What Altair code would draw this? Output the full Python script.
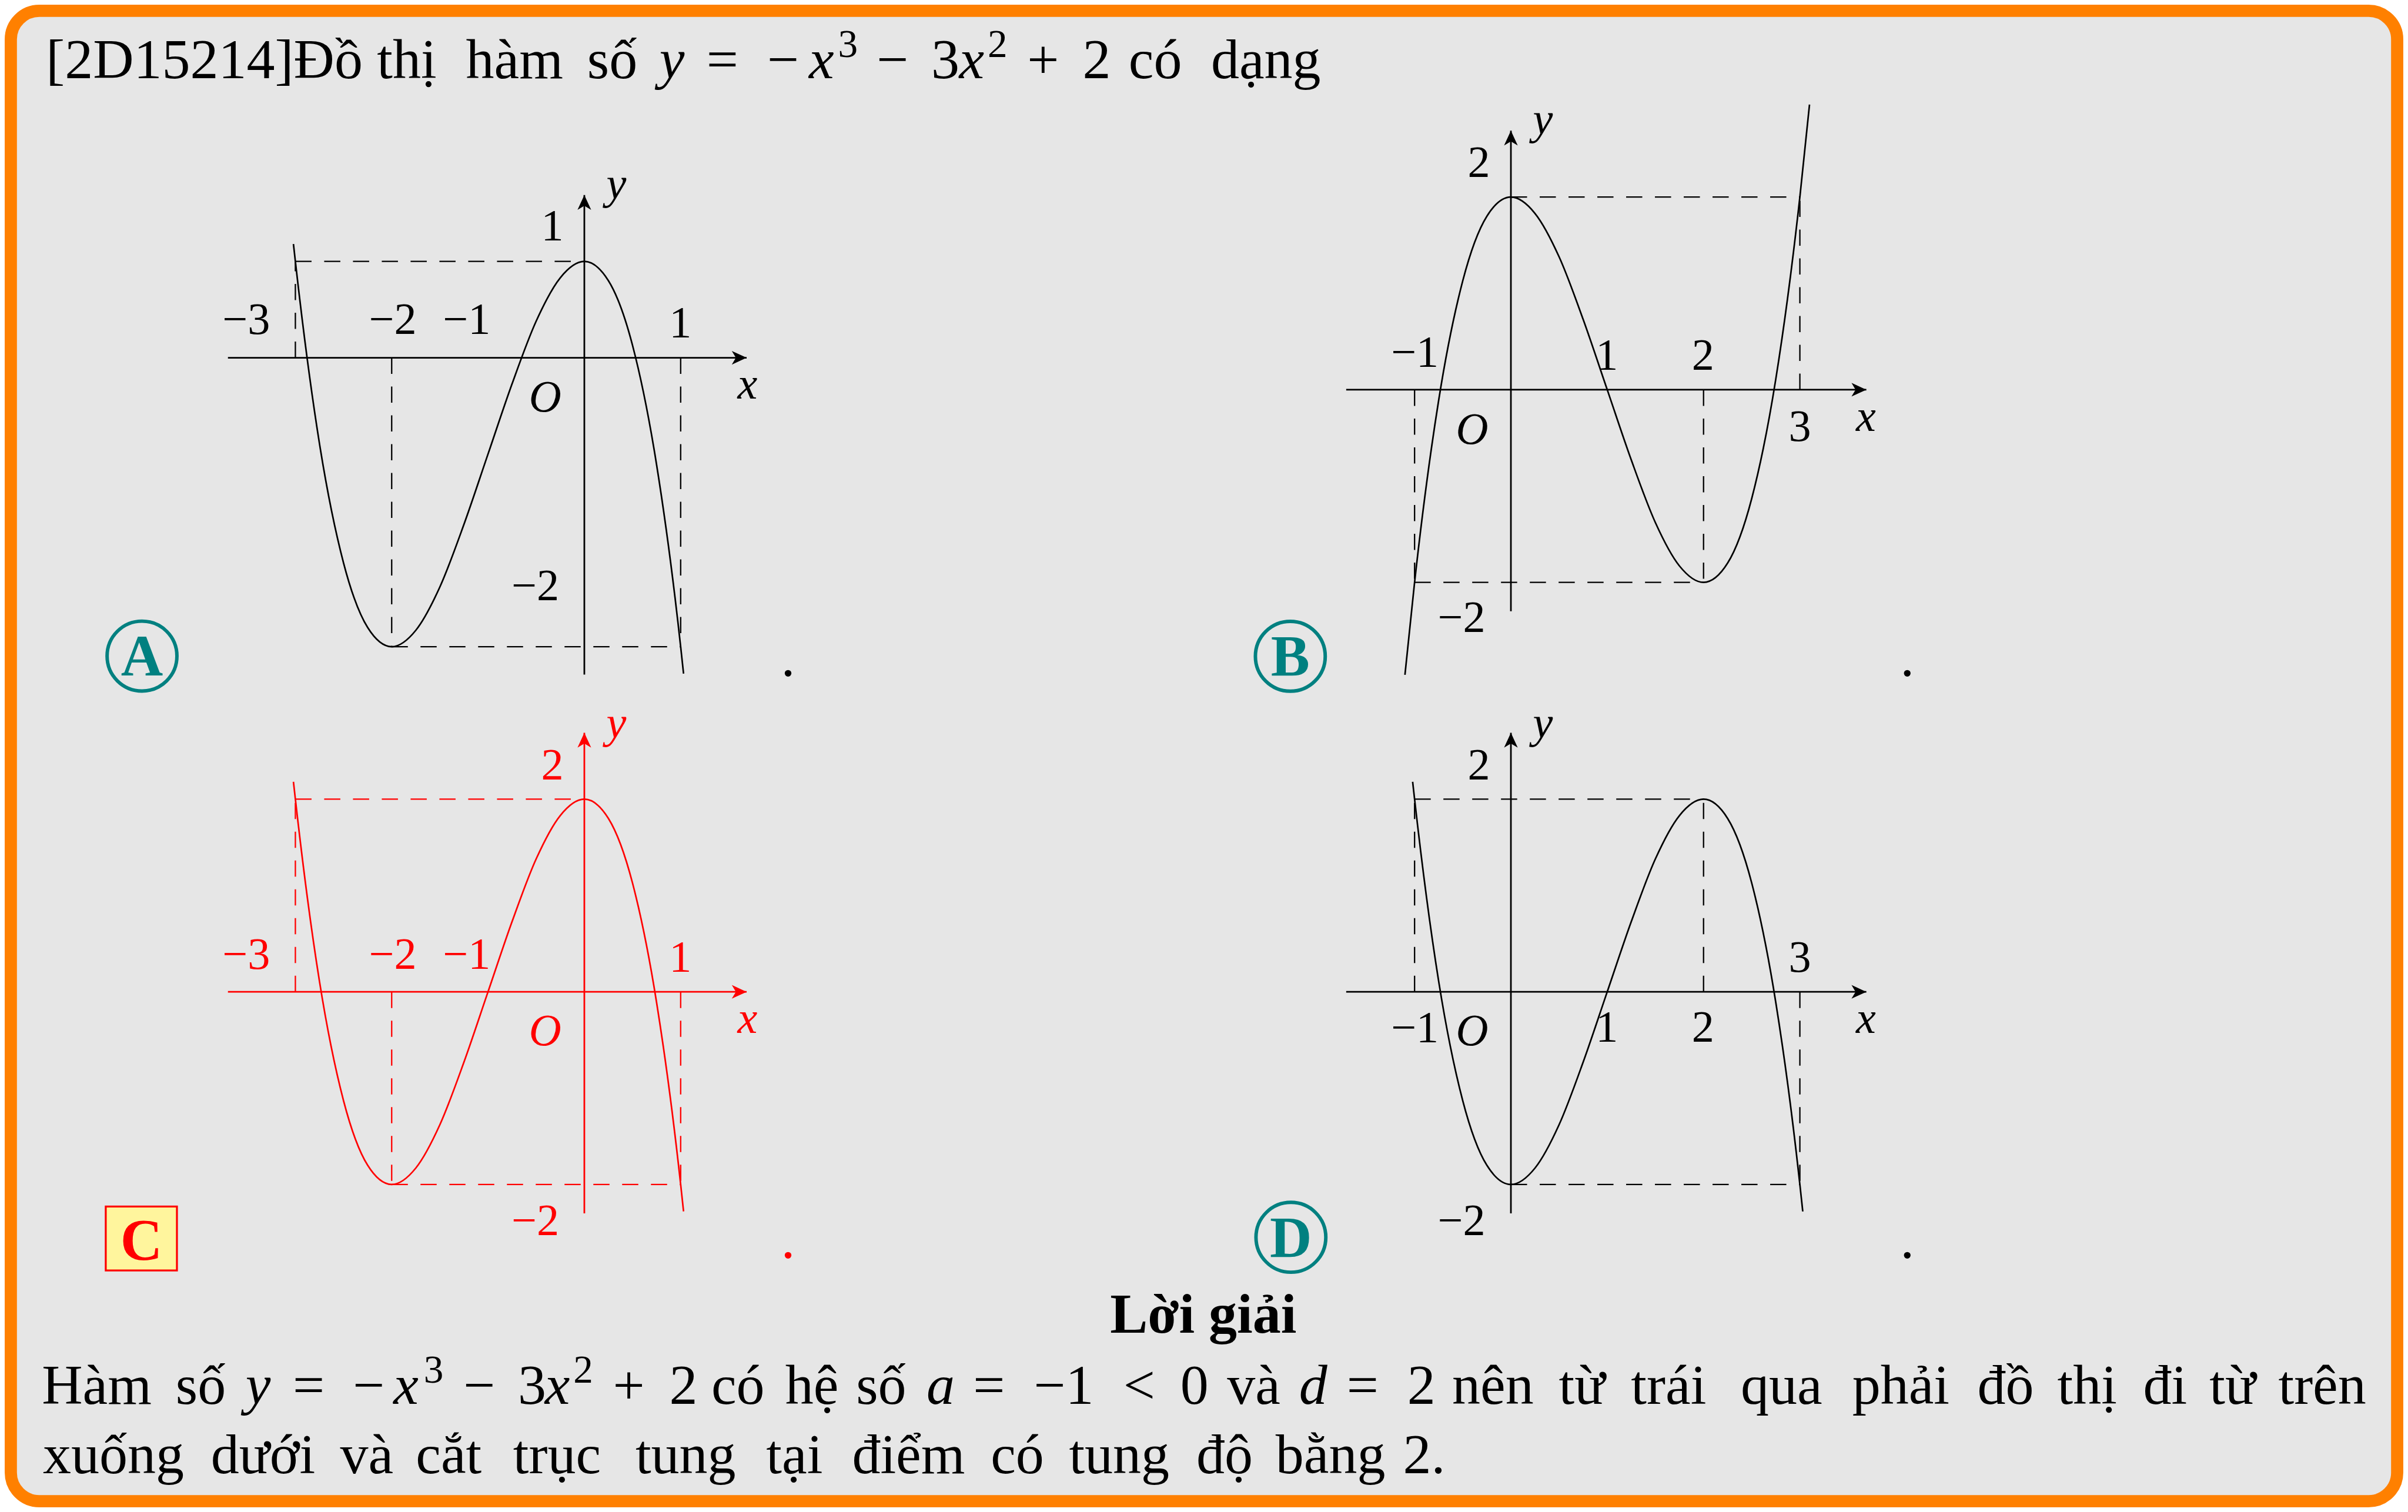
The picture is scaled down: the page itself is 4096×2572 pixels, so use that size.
import altair as alt
import pandas as pd

# ---------------- layout constants ----------------
S = 0.99          # reference -> window scale
OFF = 8.0         # page margin
W, H = 4080, 2556 # chart size (fits inside window minus margins)
U = 165.5 * S     # one math unit in pixels
FONT = "Liberation Serif"
FS_BODY = 97
FS_LABEL = 77
TEAL = "#008080"
RED = "#ff0000"


def P(v):
    return v * S - OFF


dummy = pd.DataFrame({"k": [0]})

# ---------------- panel data ----------------
# Panel A
A_cx = [-3.02, -3.0, -2.75, -2.5, -2.25, -2.0, -1.75, -1.5, -1.25, -1.0, -0.75, -0.5, -0.25, 0.0, 0.25, 0.5, 0.75, 1.0, 1.03]
A_cy = [1.18, 1.0, -0.89, -2.13, -2.80, -3.0, -2.83, -2.38, -1.73, -1.0, -0.27, 0.38, 0.83, 1.0, 0.80, 0.13, -1.11, -3.0, -3.28]
A_axx = [-3.70, 1.685]
A_axy = [-3.29, 1.69]
A_dx1 = [-3, -3, -2, -2, 1]
A_dy1 = [1, 0, 0, -3, 0]
A_dx2 = [0, -3, -2, 1, 1]
A_dy2 = [1, 1, -3, -3, -3]
A_nt = ["1", "−3", "−2", "−1", "1", "−2"]
A_nx = [-0.332, -3.51, -1.989, -1.222, 0.997, -0.509]
A_ny = [1.215, 0.245, 0.245, 0.245, 0.208, -2.519]
A_lt = ["y", "x", "O"]
A_lx = [0.332, 1.693, -0.407]
A_ly = [1.654, -0.421, -0.56]

# Panel B
B_cx = [-1.1, -1.0, -0.75, -0.5, -0.25, 0.0, 0.25, 0.5, 0.75, 1.0, 1.25, 1.5, 1.75, 2.0, 2.25, 2.5, 2.75, 3.0, 3.1]
B_cy = [-2.96, -2.0, -0.11, 1.13, 1.80, 2.0, 1.83, 1.38, 0.73, 0.0, -0.73, -1.38, -1.83, -2.0, -1.80, -1.13, 0.11, 2.0, 2.96]
B_axx = [-1.71, 3.69]
B_axy = [-2.30, 2.69]
B_dx1 = [0, 3, 2, -1, -1]
B_dy1 = [2, 0, 0, -2, 0]
B_dx2 = [3, 3, 2, 2, -1]
B_dy2 = [2, 2, -2, -2, -2]
B_nt = ["2", "−1", "1", "2", "3", "−2"]
B_nx = [-0.332, -0.997, 0.997, 1.994, 3.0, -0.513]
B_ny = [2.209, 0.239, 0.206, 0.206, -0.534, -2.517]
B_lt = ["y", "x", "O"]
B_lx = [0.332, 3.686, -0.403]
B_ly = [2.654, -0.429, -0.563]

# Panel C
C_cx = [-3.02, -3.0, -2.75, -2.5, -2.25, -2.0, -1.75, -1.5, -1.25, -1.0, -0.75, -0.5, -0.25, 0.0, 0.25, 0.5, 0.75, 1.0, 1.03]
C_cy = [2.18, 2.0, 0.11, -1.13, -1.80, -2.0, -1.83, -1.38, -0.73, 0.0, 0.73, 1.38, 1.83, 2.0, 1.80, 1.13, -0.11, -2.0, -2.28]
C_axx = [-3.70, 1.685]
C_axy = [-2.30, 2.69]
C_dx1 = [-3, -3, -2, -2, 1]
C_dy1 = [2, 0, 0, -2, 0]
C_dx2 = [0, -3, -2, 1, 1]
C_dy2 = [2, 2, -2, -2, -2]
C_nt = ["2", "−3", "−2", "−1", "1", "−2"]
C_nx = [-0.332, -3.51, -1.989, -1.222, 0.997, -0.509]
C_ny = [2.203, 0.238, 0.238, 0.238, 0.21, -2.528]
C_lt = ["y", "x", "O"]
C_lx = [0.332, 1.693, -0.407]
C_ly = [2.639, -0.425, -0.556]

# Panel D
D_cx = [-1.02, -1.0, -0.75, -0.5, -0.25, 0.0, 0.25, 0.5, 0.75, 1.0, 1.25, 1.5, 1.75, 2.0, 2.25, 2.5, 2.75, 3.0, 3.03]
D_cy = [2.18, 2.0, 0.11, -1.13, -1.80, -2.0, -1.83, -1.38, -0.73, 0.0, 0.73, 1.38, 1.83, 2.0, 1.80, 1.13, -0.11, -2.0, -2.28]
D_axx = [-1.71, 3.69]
D_axy = [-2.30, 2.69]
D_dx1 = [-1, -1, 2, 0, 3]
D_dy1 = [2, 0, 0, -2, 0]
D_dx2 = [2, -1, 2, 3, 3]
D_dy2 = [2, 2, 2, -2, -2]
D_nt = ["2", "3", "−1", "1", "2", "−2"]
D_nx = [-0.332, 3.0, -0.997, 0.997, 1.994, -0.513]
D_ny = [2.203, 0.21, -0.524, -0.516, -0.516, -2.528]
D_lt = ["y", "x", "O"]
D_lx = [0.332, 3.686, -0.403]
D_ly = [2.639, -0.425, -0.556]

# ---------------- page text ----------------
# style: n = normal (left), c = normal (centred), i = italic (left), s = superscript
title_t = ["[2D15214]Đồ", "thị", "hàm", "số", "y", "=", "−", "x", "3", "−", "3", "x", "2", "+", "2", "có", "dạng"]
title_s = ["n", "c", "c", "c", "i", "n", "n", "i", "s", "n", "n", "i", "s", "n", "n", "c", "c"]
title_x = [79, 699, 884, 1052, 1133, 1214, 1318, 1390, 1440, 1506, 1600, 1648, 1697, 1765, 1860, 1985, 2175]

line1_t = ["Hàm", "số", "y", "=", "−", "x", "3", "−", "3", "x", "2", "+", "2", "có", "hệ", "số", "a", "=", "−1",
           "<", "0", "và", "d", "=", "2", "nên", "từ", "trái", "qua", "phải", "đồ", "thị", "đi", "từ", "trên"]
line1_s = ["n", "c", "i", "n", "n", "i", "s", "n", "n", "i", "s", "n", "n", "c", "c", "c", "i", "n", "n",
           "n", "n", "c", "i", "n", "n", "c", "c", "c", "c", "c", "c", "c", "c", "c", "c"]
line1_x = [72, 345, 422, 503, 606, 676, 728, 796, 890, 936, 985, 1053, 1150, 1268, 1395, 1514, 1592, 1672, 1776,
           1930, 2028, 2154, 2232, 2314, 2418, 2565, 2718, 2867, 3061, 3266, 3446, 3586, 3720, 3836, 3990]

line2_t = ["xuống", "dưới", "và", "cắt", "trục", "tung", "tại", "điểm", "có", "tung", "độ", "bằng", "2."]
line2_x = [195, 452, 630, 771, 957, 1178, 1365, 1561, 1748, 1923, 2104, 2286, 2447]

# ---------------- helpers ----------------
ARROW_L = 25.5 * S
ARROW_SIZE = ARROW_L ** 2
RIGHT = "M1,0 L-1,-0.92 L-0.45,0 L-1,0.92 Z"
UP = "M0,-1 L0.92,1 L0,0.45 L-0.92,1 Z"


def txt(s, x, y, size=FS_BODY, style="normal", weight="normal", color="black", align="left"):
    return alt.Chart(dummy).mark_text(
        text=s, font=FONT, fontSize=size * S, fontStyle=style, fontWeight=weight,
        color=color, align=align, baseline="alphabetic"
    ).encode(x=alt.value(P(x)), y=alt.value(P(y)))


def token_line(tokens, styles, xs, base):
    out = []
    for t, st, x in zip(tokens, styles, xs):
        if st == "s":
            out.append(txt(t, x, base - 36, size=FS_BODY * 0.7))
        elif st == "i":
            out.append(txt(t, x, base, style="italic"))
        elif st == "c":
            out.append(txt(t, x, base, align="center"))
        else:
            out.append(txt(t, x, base))
    return out


def panel(cx, cy, axx, axy, dx1, dy1, dx2, dy2, nt, nx, ny, lt, lx, ly, origin, color):
    ox, oy = P(origin[0]), P(origin[1])
    xs = alt.Scale(domain=[-ox / U, (W - ox) / U], nice=False, zero=False)
    ys = alt.Scale(domain=[(oy - H) / U, oy / U], nice=False, zero=False)

    def enc(xf, yf):
        return dict(x=alt.X(xf, type="quantitative", scale=xs, axis=None),
                    y=alt.Y(yf, type="quantitative", scale=ys, axis=None))

    dash_df = pd.DataFrame({"x1": dx1, "y1": dy1, "x2": dx2, "y2": dy2})
    dashes = alt.Chart(dash_df).mark_rule(
        color=color, strokeWidth=2.3, strokeDash=[27.5, 21.5]
    ).encode(**enc("x1", "y1"), x2=alt.X2("x2"), y2=alt.Y2("y2"))

    axes_df = pd.DataFrame({"x1": [axx[0], 0], "y1": [0, axy[0]],
                            "x2": [axx[1], 0], "y2": [0, axy[1]]})
    axes = alt.Chart(axes_df).mark_rule(color=color, strokeWidth=2.8).encode(
        **enc("x1", "y1"), x2=alt.X2("x2"), y2=alt.Y2("y2"))

    curve = alt.Chart(pd.DataFrame({"x": cx, "y": cy})).mark_line(
        color=color, strokeWidth=2.7, interpolate="monotone"
    ).encode(**enc("x", "y"))

    arr_r = alt.Chart(pd.DataFrame({"x": [axx[1]], "y": [0]})).mark_point(
        shape=RIGHT, size=ARROW_SIZE, filled=True, color=color, opacity=1,
        strokeWidth=0, xOffset=-ARROW_L / 2
    ).encode(**enc("x", "y"))
    arr_u = alt.Chart(pd.DataFrame({"x": [0], "y": [axy[1]]})).mark_point(
        shape=UP, size=ARROW_SIZE, filled=True, color=color, opacity=1,
        strokeWidth=0, yOffset=ARROW_L / 2
    ).encode(**enc("x", "y"))

    nums = alt.Chart(pd.DataFrame({"t": nt, "x": nx, "y": ny})).mark_text(
        font=FONT, fontSize=FS_LABEL * S, color=color, align="center", baseline="alphabetic"
    ).encode(**enc("x", "y"), text="t:N")
    lets = alt.Chart(pd.DataFrame({"t": lt, "x": lx, "y": ly})).mark_text(
        font=FONT, fontSize=FS_LABEL * S, fontStyle="italic", color=color,
        align="center", baseline="alphabetic"
    ).encode(**enc("x", "y"), text="t:N")
    return alt.layer(dashes, axes, curve, arr_r, arr_u, nums, lets)


# ---------------- build ----------------
BW = 21 * S
bg = alt.Chart(dummy).mark_rect(
    fill="#e6e6e6", stroke="#ff8000", strokeWidth=BW, cornerRadius=49 * S
).encode(x=alt.value(BW / 2), x2=alt.value(W - BW / 2),
         y=alt.value(BW / 2), y2=alt.value(H - BW / 2))


def circle(x, y):
    return alt.Chart(dummy).mark_point(
        shape="circle", size=(2 * 60 * S) ** 2, filled=False, color=TEAL,
        strokeWidth=6 * S, opacity=1
    ).encode(x=alt.value(P(x)), y=alt.value(P(y)))


box_c = alt.Chart(dummy).mark_rect(
    fill="#fff59d", stroke=RED, strokeWidth=3.3 * S
).encode(x=alt.value(P(181.7)), x2=alt.value(P(304.0)),
         y=alt.value(P(2073.0)), y2=alt.value(P(2183.0)))

decor = [
    circle(244, 1127.3), txt("A", 244, 1160.7, 100, weight="bold", color=TEAL, align="center"),
    circle(2217, 1127.7), txt("B", 2217, 1161, 100, weight="bold", color=TEAL, align="center"),
    box_c, txt("C", 243, 2163.3, 100, weight="bold", color=RED, align="center"),
    circle(2218, 2126), txt("D", 2218, 2159.5, 100, weight="bold", color=TEAL, align="center"),
    txt(".", 1354, 1162, align="center"),
    txt(".", 3277, 1162, align="center"),
    txt(".", 1354, 2162, color=RED, align="center"),
    txt(".", 3277, 2162, align="center"),
    txt("Lời giải", 2067.5, 2290, weight="bold", align="center"),
]

texts = (token_line(title_t, title_s, title_x, 134)
         + token_line(line1_t, line1_s, line1_x, 2411.7)
         + token_line(line2_t, ["c"] * len(line2_t), line2_x, 2531.7))

pA = panel(A_cx, A_cy, A_axx, A_axy, A_dx1, A_dy1, A_dx2, A_dy2, A_nt, A_nx, A_ny, A_lt, A_lx, A_ly, (1004, 614.7), "black")
pB = panel(B_cx, B_cy, B_axx, B_axy, B_dx1, B_dy1, B_dx2, B_dy2, B_nt, B_nx, B_ny, B_lt, B_lx, B_ly, (2596, 669.6), "black")
pC = panel(C_cx, C_cy, C_axx, C_axy, C_dx1, C_dy1, C_dx2, C_dy2, C_nt, C_nx, C_ny, C_lt, C_lx, C_ly, (1004, 1704.2), RED)
pD = panel(D_cx, D_cy, D_axx, D_axy, D_dx1, D_dy1, D_dx2, D_dy2, D_nt, D_nx, D_ny, D_lt, D_lx, D_ly, (2596, 1704.2), "black")

chart = alt.layer(bg, *decor, *texts, pA, pB, pC, pD).resolve_scale(
    x="independent", y="independent"
).properties(
    width=W, height=H, padding=0,
    autosize=alt.AutoSizeParams(type="none"),
    background="white",
).configure_view(stroke=None)

chart.save("out.html", embed_options={"renderer": "svg", "actions": False})
